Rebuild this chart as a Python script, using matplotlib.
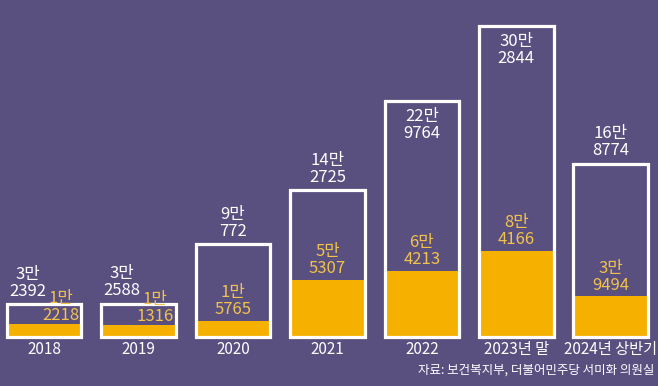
import matplotlib.pyplot as plt

plt.rcParams["font.family"] = ["Noto Sans CJK KR", "DejaVu Sans"]

# Data
periods = ["2018", "2019", "2020", "2021", "2022", "2023년 말", "2024년 상반기"]
totals = [32392, 32588, 90772, 142725, 229764, 302844, 168774]
subset = [12218, 11316, 15765, 55307, 64213, 84166, 39494]
source = "자료: 보건복지부, 더불어민주당 서미화 의원실"

bg = "#5a5080"
yellow = "#f6b100"
label_yellow = "#f2c24a"


def korean_num(v):
    man, rest = divmod(v, 10000)
    return f"{man}만\n{rest}"


fig = plt.figure(figsize=(6.58, 3.86), dpi=100, facecolor=bg)
ax = fig.add_axes([0, 0, 1, 1])
ax.set_facecolor(bg)
ax.set_xlim(-0.466, 6.5)
ax.set_ylim(-47700, 328100)
ax.axis("off")

x = list(range(len(periods)))
width = 0.79

ax.bar(x, subset, width=width, color=yellow, zorder=2)
ax.bar(x, totals, width=width, facecolor="none", edgecolor="white",
       linewidth=2.3, zorder=3)

for i, (t, s) in enumerate(zip(totals, subset)):
    # total labels
    if i in (4, 5):
        ax.annotate(korean_num(t), (i, t), xytext=(0, -5), textcoords="offset points",
                    ha="center", va="top", color="white", fontsize=12,
                    linespacing=1.0, zorder=4)
    else:
        dx = -12 if i < 2 else 0
        ax.annotate(korean_num(t), (i, t), xytext=(dx, 3), textcoords="offset points",
                    ha="center", va="bottom", color="white", fontsize=12,
                    linespacing=1.0, zorder=4)
    # subset labels
    dx = 12 if i < 2 else 0
    dy = 0 if i < 2 else 2
    ax.annotate(korean_num(s), (i, s), xytext=(dx, dy), textcoords="offset points",
                ha="center", va="bottom", color=label_yellow, fontsize=12,
                linespacing=1.0, zorder=4)
    # period labels
    ax.annotate(periods[i], (i, 0), xytext=(0, -9), textcoords="offset points",
                ha="center", va="center", color="white", fontsize=11, zorder=4)

fig.text(0.995, 0.042, source, ha="right", va="center", color="white", fontsize=9)

fig.savefig("out.png", dpi=100, facecolor=bg)
